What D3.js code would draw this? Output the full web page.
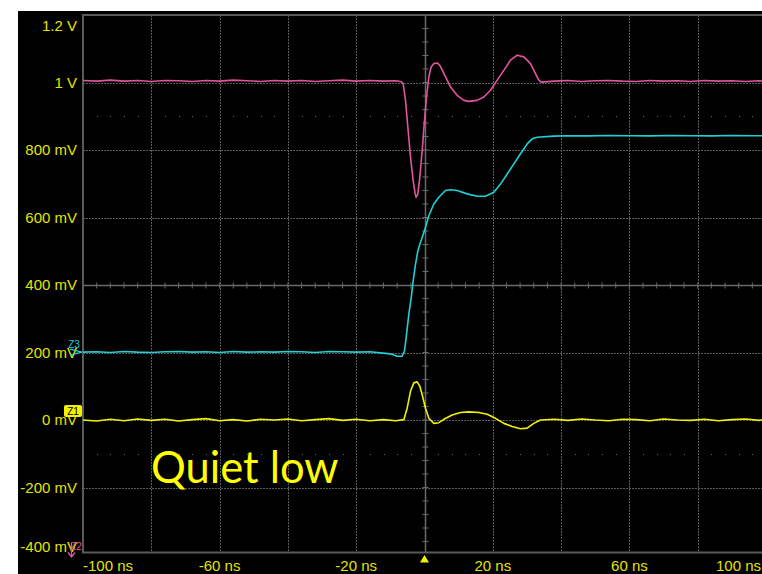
<!DOCTYPE html>
<html>
<head>
<meta charset="utf-8">
<script src="https://cdn.jsdelivr.net/npm/d3@7"></script>
<style>
  html, body { margin: 0; padding: 0; background: #ffffff; }
  svg { display: block; }
</style>
</head>
<body>
<svg id="scope" width="762" height="574"></svg>
<script>
// Time axis (ns) and voltage axis (V) ticks
const xTickValues = [-100, -60, -20, 20, 60, 100];
const xTickLabels = ["-100 ns", "-60 ns", "-20 ns", "20 ns", "60 ns", "100 ns"];
const yTickValues = [1.2, 1.0, 0.8, 0.6, 0.4, 0.2, 0, -0.2, -0.4];
const yTickLabels = ["1.2 V", "1 V", "800 mV", "600 mV", "400 mV", "200 mV", "0 mV", "-200 mV", "-400 mV"];

// Channel 2 (magenta)
const magentaTime = [-100, -96, -92, -88, -84, -80, -76, -72, -68, -64, -60, -56, -52, -48, -44, -40, -36, -32, -28, -24, -20, -16, -12, -8.5,
  -7.0, -6.25, -5.56, -4.88, -4.10, -3.32, -2.73, -2.44, -1.95, -1.37, -0.68, 0, 0.59, 1.27, 1.95, 2.73, 3.71, 4.49, 5.66, 7.61, 9.57,
  11.52, 12.98, 15.42, 17.37, 19.33, 21.28, 23.23, 25.18, 27.14, 29.09, 31.04, 32.01, 33.48, 34.16,
  38, 42, 46, 50, 54, 58, 62, 66, 70, 74, 78, 82, 86, 90, 94, 98, 100];
const magentaVolts = [1.006, 1.004, 1.007, 1.004, 1.006, 1.003, 1.006, 1.005, 1.003, 1.006, 1.004, 1.007, 1.005, 1.003, 1.006, 1.004, 1.006, 1.003, 1.005, 1.007, 1.004, 1.006, 1.004, 1.005,
  1.003, 0.997, 0.947, 0.868, 0.779, 0.709, 0.670, 0.660, 0.670, 0.719, 0.798, 0.888, 0.957, 1.017, 1.046, 1.056, 1.058, 1.051, 1.027, 0.987, 0.962,
  0.947, 0.944, 0.947, 0.957, 0.977, 1.007, 1.036, 1.066, 1.081, 1.076, 1.056, 1.036, 1.007, 1.001,
  1.004, 1.006, 1.003, 1.005, 1.006, 1.004, 1.003, 1.006, 1.004, 1.005, 1.003, 1.006, 1.004, 1.005, 1.003, 1.005, 1.004];

// Channel 3 (cyan)
const cyanTime = [-100, -96, -92, -88, -84, -80, -76, -72, -68, -64, -60, -56, -52, -48, -44, -40, -36, -32, -28, -24, -20, -16, -12.9, -10,
  -8.0, -6.54, -5.86, -5.27, -4.59, -3.90, -3.32, -2.64, -1.95, -1.37, -0.68, 0.29, 1.27, 2.73, 4.20, 6.15, 7.61, 9.57, 12.49, 15.42, 17.86,
  20.30, 22.25, 24.21, 26.16, 28.11, 30.06, 31.53, 32.99, 37.87, 42, 48, 54, 60, 66, 72, 78, 84, 90, 96, 100];
const cyanVolts = [0.201, 0.202, 0.200, 0.203, 0.201, 0.200, 0.202, 0.203, 0.201, 0.202, 0.200, 0.203, 0.201, 0.202, 0.201, 0.203, 0.202, 0.200, 0.203, 0.202, 0.201, 0.202, 0.199, 0.196,
  0.189, 0.189, 0.204, 0.253, 0.313, 0.362, 0.412, 0.461, 0.501, 0.521, 0.541, 0.570, 0.605, 0.640, 0.660, 0.680, 0.682, 0.680, 0.670, 0.663, 0.663,
  0.675, 0.699, 0.729, 0.759, 0.789, 0.818, 0.833, 0.838, 0.841, 0.842, 0.842, 0.843, 0.842, 0.842, 0.843, 0.842, 0.842, 0.843, 0.842, 0.842];

// Channel 1 (yellow)
const yellowTime = [-100, -96, -92, -88, -84, -80, -76, -72, -68, -64, -60, -56, -52, -48, -44, -40, -36, -32, -28, -24, -20, -16, -12, -8.5,
  -6.05, -5.08, -4.10, -3.12, -2.15, -1.37, -0.68, 0.29, 1.27, 2.73, 4.20, 5.66, 8.10, 10.54, 12.98, 15.91, 18.35, 20.79, 23.23, 25.67, 28.11,
  30.06, 32.01, 33.97, 38, 42, 46, 50, 54, 58, 62, 66, 70, 74, 78, 82, 86, 90, 94, 98, 100];
const yellowVolts = [0.000, -0.003, 0.002, -0.002, 0.003, -0.001, 0.002, -0.003, 0.001, 0.004, -0.002, 0.001, -0.003, 0.002, 0.000, 0.003, -0.002, 0.001, 0.004, -0.001, 0.002, -0.002, 0.001, -0.002,
  0.001, 0.035, 0.085, 0.110, 0.113, 0.100, 0.075, 0.035, 0.005, -0.010, -0.008, 0.002, 0.015, 0.022, 0.024, 0.022, 0.017, 0.005, -0.010, -0.019, -0.026,
  -0.024, -0.010, 0.000, 0.002, -0.001, 0.003, 0.000, -0.002, 0.002, 0.001, -0.002, 0.003, 0.000, -0.001, 0.002, -0.002, 0.001, 0.003, -0.001, 0.001];

const annotation = "Quiet low";

const svg = d3.select("#scope");
const W = 762, H = 574;

const x = d3.scaleLinear().domain([-100, 100]).range([83, 766]);
const y = d3.scaleLinear().domain([-0.4, 1.2]).range([555, 15]);

const gridColor = "#5c5c5c";
const frameColor = "#5a5a5a";
const labelColor = "#e4e400";

// Screen background
svg.append("rect").attr("x", 18).attr("y", 11).attr("width", W - 18).attr("height", H - 11).attr("fill", "#000");

const plotTop = y(1.2), plotBottom = y(-0.4) - 2.5, plotLeft = x(-100), plotRight = x(100);

// Dotted division lines
const gridX = d3.range(-80, 100, 20).filter(t => t !== 0);
const gridY = [1.0, 0.8, 0.6, 0.2, 0.0, -0.2];
const grid = svg.append("g").attr("stroke", gridColor).attr("stroke-width", 1).attr("stroke-dasharray", "2,1");
grid.selectAll("line.v").data(gridX).join("line").attr("class", "v")
  .attr("x1", d => Math.round(x(d)) + 0.5).attr("x2", d => Math.round(x(d)) + 0.5)
  .attr("y1", plotTop).attr("y2", plotBottom);
grid.selectAll("line.h").data(gridY).join("line").attr("class", "h")
  .attr("x1", plotLeft).attr("x2", plotRight)
  .attr("y1", d => Math.round(y(d)) + 0.5).attr("y2", d => Math.round(y(d)) + 0.5);

// Sparse dot rows
const dotRows = [0.9, -0.1];
const dotTimes = d3.range(-96, 100, 4).filter(t => t % 20 !== 0);
dotRows.forEach(v => {
  svg.append("g").selectAll("rect").data(dotTimes).join("rect")
    .attr("x", d => Math.round(x(d))).attr("y", Math.round(y(v)))
    .attr("width", 1).attr("height", 1).attr("fill", "#6a6a6a");
});

// Centre cross with minor ticks
const cx = Math.round(x(0)) + 0.5, cy = Math.round(y(0.4)) + 0.5;
const cross = svg.append("g").attr("stroke", "#6a6a6a").attr("stroke-width", 1.5);
cross.append("line").attr("x1", cx).attr("x2", cx).attr("y1", plotTop).attr("y2", plotBottom);
cross.append("line").attr("x1", plotLeft).attr("x2", plotRight).attr("y1", cy).attr("y2", cy);
const minorT = d3.range(-96, 100, 4).filter(t => t !== 0);
cross.selectAll("line.tx").data(minorT).join("line").attr("class", "tx")
  .attr("x1", d => x(d)).attr("x2", d => x(d)).attr("y1", cy - 3).attr("y2", cy + 3).attr("stroke-width", 1);
const minorV = d3.range(-0.36, 1.2, 0.04).filter(v => Math.abs(v - 0.4) > 1e-6);
cross.selectAll("line.ty").data(minorV).join("line").attr("class", "ty")
  .attr("x1", cx - 3).attr("x2", cx + 3).attr("y1", d => y(d)).attr("y2", d => y(d)).attr("stroke-width", 1);

// Frame (top, left, bottom)
svg.append("path")
  .attr("d", `M${plotRight},${plotTop}H${plotLeft}V${plotBottom}H${plotRight}`)
  .attr("fill", "none").attr("stroke", frameColor).attr("stroke-width", 2);

// Traces
const line = d3.line().x(d => x(d[0])).y(d => y(d[1]));
const traces = [
  { t: magentaTime, v: magentaVolts, color: "#e2559c" },
  { t: cyanTime, v: cyanVolts, color: "#1fd0d4" },
  { t: yellowTime, v: yellowVolts, color: "#f2f200" }
];
traces.forEach(tr => {
  svg.append("path")
    .attr("d", line(d3.zip(tr.t, tr.v)))
    .attr("fill", "none").attr("stroke", tr.color).attr("stroke-width", 1.6)
    .attr("stroke-linejoin", "round");
});

// Axis labels
const font = "'Liberation Sans', Arial, sans-serif";
svg.append("g").selectAll("text").data(yTickValues).join("text")
  .attr("x", 77)
  .attr("y", d => Math.max(25.5, Math.min(546.5, y(d))))
  .attr("dy", "0.36em")
  .attr("text-anchor", "end")
  .attr("font-family", font).attr("font-size", 15)
  .attr("fill", labelColor)
  .text((d, i) => yTickLabels[i]);

const lastX = xTickValues.length - 1;
svg.append("g").selectAll("text").data(xTickValues).join("text")
  .attr("x", (d, i) => i === lastX ? Math.min(x(d), W - 1) : x(d))
  .attr("y", 571)
  .attr("text-anchor", (d, i) => i === 0 ? "start" : i === lastX ? "end" : "middle")
  .attr("font-family", font).attr("font-size", 15)
  .attr("fill", labelColor)
  .text((d, i) => xTickLabels[i]);

// Trigger position marker
svg.append("path")
  .attr("d", `M${x(0)},${555}L${x(0) + 4.5},${562.5}L${x(0) - 4.5},${562.5}Z`)
  .attr("fill", "#f2f200");

// Channel reference markers
const z3y = y(cyanVolts[0]);
svg.append("path")
  .attr("d", `M70,${z3y - 3}L82,${z3y}L70,${z3y + 3}`)
  .attr("fill", "none").attr("stroke", "#1fd0d4").attr("stroke-width", 1.2);
svg.append("text").attr("x", 74).attr("y", z3y - 4).attr("text-anchor", "middle")
  .attr("font-family", font).attr("font-size", 10).attr("fill", "#1fd0d4").text("Z3");

const z1y = y(0);
svg.append("rect").attr("x", 64).attr("y", z1y - 15).attr("width", 18).attr("height", 12).attr("rx", 2)
  .attr("fill", "#f2f200");
svg.append("text").attr("x", 73).attr("y", z1y - 5.5).attr("text-anchor", "middle")
  .attr("font-family", font).attr("font-size", 10).attr("fill", "#000").text("Z1");

svg.append("text").attr("x", 76).attr("y", 550).attr("text-anchor", "middle")
  .attr("font-family", font).attr("font-size", 10).attr("fill", "#e2559c").text("Z2");
svg.append("path")
  .attr("d", "M71.5,543V556M68,552.5L71.5,557L75,552.5")
  .attr("fill", "none").attr("stroke", "#e2559c").attr("stroke-width", 1.3);

// Annotation
svg.append("text")
  .attr("x", 151).attr("y", 483)
  .attr("font-family", "Lato, 'Open Sans', sans-serif").attr("font-size", 43.5)
  .attr("fill", "#ffff00")
  .text(annotation);
</script>
</body>
</html>
